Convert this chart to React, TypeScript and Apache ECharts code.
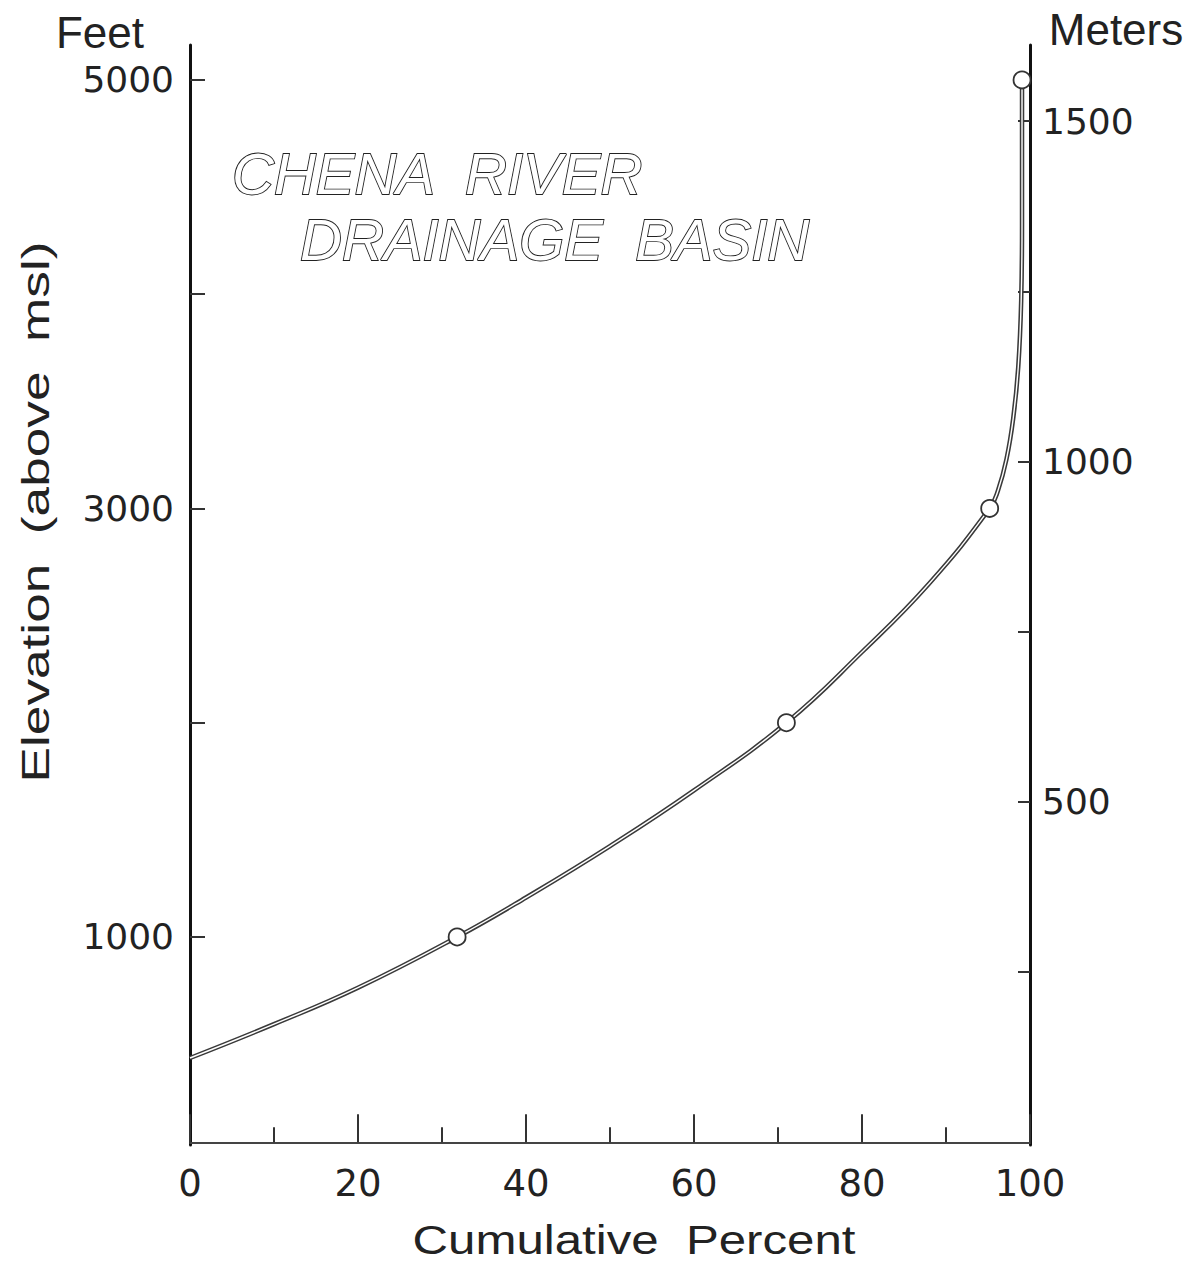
import { useEffect, useRef } from "react";
import * as echarts from "echarts";

// Hypsometric curve of the Chena River drainage basin (cumulative % vs feet)
const percentValues = [0, 10, 20, 31.8, 40, 50, 60, 71, 80, 88, 95.2, 96.2, 97.2, 98.0, 98.6, 98.95, 99.05, 99.05];
const feetValues = [435, 593, 763, 1000, 1184, 1424, 1684, 2000, 2330, 2650, 3000, 3085, 3230, 3420, 3660, 3970, 4320, 5000];

const markedPercent = [31.8, 71, 95.2, 99.05];
const markedFeet = [1000, 2000, 3000, 5000];

const feetTicks = [1000, 2000, 3000, 4000, 5000];
const feetTickLabels = [1000, 3000, 5000];
const meterTicks = [250, 500, 750, 1000, 1250, 1500];
const meterTickLabels = [500, 1000, 1500];

const titleLine1 = "CHENA  RIVER";
const titleLine2 = "DRAINAGE  BASIN";
const xAxisTitle = "Cumulative  Percent";
const yAxisTitle = "Elevation  (above  msl)";
const leftUnit = "Feet";
const rightUnit = "Meters";

export default function App() {
  const ref = useRef<HTMLDivElement>(null);

  useEffect(() => {
    const chart = echarts.init(ref.current!, null, { renderer: "svg" });
    const font = "'Liberation Sans', 'DejaVu Sans', Arial, sans-serif";
    const numFont = "'DejaVu Sans', 'Liberation Sans', sans-serif";
    const ink = "#222";
    const curve = percentValues.map((p, i) => [p, feetValues[i]]);
    const marks = markedPercent.map((p, i) => [p, markedFeet[i]]);
    const plain = (v: number) => String(v);

    chart.setOption({
      animation: false,
      backgroundColor: "#fff",
      grid: { left: 190, right: 169, top: 45, bottom: 124 },
      xAxis: {
        type: "value",
        min: 0,
        max: 100,
        interval: 20,
        axisLine: { show: true, lineStyle: { color: "#444", width: 1.8 } },
        axisTick: { show: true, inside: true, length: 28, lineStyle: { color: "#333", width: 2 } },
        minorTick: { show: true, splitNumber: 2, length: 15, lineStyle: { color: "#333", width: 2 } },
        axisLabel: { margin: 20, fontSize: 37, color: ink, fontFamily: numFont, formatter: plain },
        splitLine: { show: false },
        minorSplitLine: { show: false },
      },
      yAxis: [
        {
          type: "value",
          position: "left",
          min: 29,
          max: 5163,
          axisLine: { show: true, lineStyle: { color: "#111", width: 3 } },
          axisTick: { show: true, inside: true, length: 15, customValues: feetTicks, lineStyle: { color: "#333", width: 2 } },
          axisLabel: { customValues: feetTickLabels, margin: 16, fontSize: 36, color: ink, fontFamily: numFont, formatter: plain },
          splitLine: { show: false },
        },
        {
          type: "value",
          position: "right",
          min: -4,
          max: 1612,
          axisLine: { show: true, lineStyle: { color: "#111", width: 3 } },
          axisTick: { show: true, inside: true, length: 12, customValues: meterTicks, lineStyle: { color: "#333", width: 2 } },
          axisLabel: { customValues: meterTickLabels, margin: 12, fontSize: 36, color: ink, fontFamily: numFont, formatter: plain },
          splitLine: { show: false },
        },
      ],
      series: [
        {
          type: "line",
          yAxisIndex: 0,
          data: curve,
          smooth: 0.45,
          showSymbol: false,
          lineStyle: { color: "#3a3a3a", width: 4.5 },
          z: 2,
        },
        {
          type: "line",
          yAxisIndex: 0,
          data: curve,
          smooth: 0.45,
          showSymbol: false,
          lineStyle: { color: "#fff", width: 1.4 },
          z: 3,
        },
        {
          type: "scatter",
          yAxisIndex: 0,
          data: marks,
          symbol: "circle",
          symbolSize: 17,
          itemStyle: { color: "#fff", borderColor: "#333", borderWidth: 1.8, opacity: 1 },
          z: 4,
        },
      ],
      graphic: [
        {
          type: "text",
          x: 100,
          y: 32,
          style: { text: leftUnit, fontSize: 44, fontFamily: font, fill: ink, align: "center", verticalAlign: "middle" },
        },
        {
          type: "text",
          x: 1116,
          y: 29,
          style: { text: rightUnit, fontSize: 44, fontFamily: font, fill: ink, align: "center", verticalAlign: "middle" },
        },
        {
          type: "text",
          x: 36,
          y: 512,
          rotation: Math.PI / 2,
          scaleX: 1.4,
          style: { text: yAxisTitle, fontSize: 38, fontFamily: font, fill: ink, align: "center", verticalAlign: "middle" },
        },
        {
          type: "text",
          x: 634,
          y: 1240,
          scaleX: 1.23,
          style: { text: xAxisTitle, fontSize: 40, fontFamily: font, fill: ink, align: "center", verticalAlign: "middle" },
        },
        {
          type: "text",
          x: 232,
          y: 173,
          style: {
            text: titleLine1,
            fontSize: 58,
            fontStyle: "italic",
            fontFamily: font,
            fill: "#fff",
            stroke: ink,
            lineWidth: 1.8,
            align: "left",
            verticalAlign: "middle",
          },
        },
        {
          type: "text",
          x: 300,
          y: 239,
          style: {
            text: titleLine2,
            fontSize: 58,
            fontStyle: "italic",
            fontFamily: font,
            fill: "#fff",
            stroke: ink,
            lineWidth: 1.8,
            align: "left",
            verticalAlign: "middle",
          },
        },
      ],
    });

    return () => chart.dispose();
  }, []);

  return (
    <div
      ref={ref}
      style={{ position: "absolute", left: 0, top: 0, width: 1199, height: 1269, background: "#fff" }}
    />
  );
}
